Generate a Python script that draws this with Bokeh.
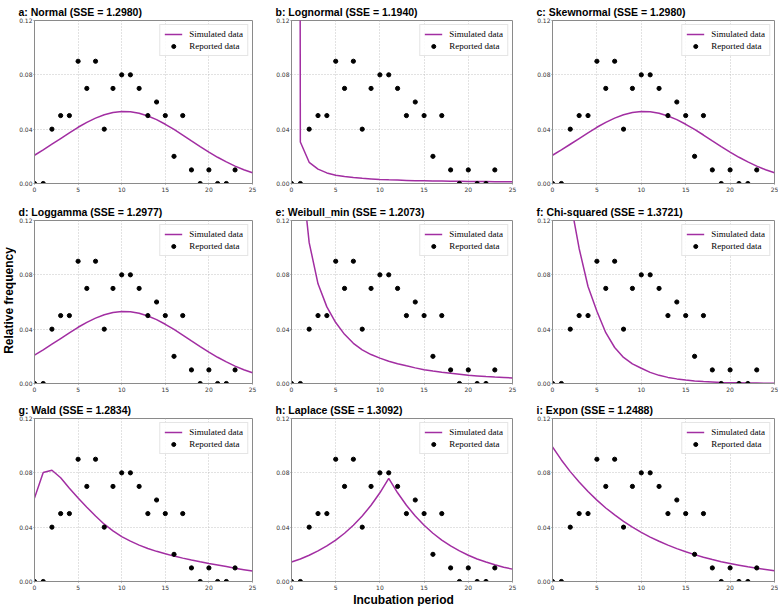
import math
from bokeh.plotting import figure
from bokeh.layouts import column, row
from bokeh.models import FixedTicker, PrintfTickFormatter, Label
from bokeh.embed import file_html
from bokeh.resources import INLINE

# ---------------- data ----------------
days = list(range(0, 26))            # x grid of the fitted curves
report_days = list(range(0, 24))     # x of the reported points
reported_freq = [0.00, 0.00, 0.04, 0.05, 0.05, 0.09, 0.07, 0.09, 0.04, 0.07,
                 0.08, 0.08, 0.07, 0.05, 0.06, 0.05, 0.02, 0.05, 0.01, 0.00,
                 0.01, 0.00, 0.00, 0.01]

normal_pdf = [0.0208, 0.0247, 0.0289, 0.0331, 0.0373, 0.0414, 0.0450, 0.0481, 0.0506, 0.0522,
              0.0530, 0.0528, 0.0517, 0.0497, 0.0470, 0.0436, 0.0398, 0.0357, 0.0314, 0.0272,
              0.0231, 0.0193, 0.0159, 0.0128, 0.0101, 0.0079]
lognormal_pdf = [5.0, 0.0306, 0.0156, 0.0106, 0.0078, 0.0061, 0.0051, 0.0044, 0.0038, 0.0034,
                 0.0030, 0.0027, 0.0025, 0.0023, 0.0021, 0.0020, 0.0019, 0.0018, 0.0017, 0.0016,
                 0.0015, 0.0014, 0.0014, 0.0013, 0.0013, 0.0012]
skewnormal_pdf = [0.0208, 0.0247, 0.0289, 0.0331, 0.0373, 0.0414, 0.0450, 0.0481, 0.0506, 0.0522,
                  0.0530, 0.0528, 0.0517, 0.0497, 0.0470, 0.0436, 0.0398, 0.0357, 0.0314, 0.0272,
                  0.0231, 0.0193, 0.0159, 0.0128, 0.0101, 0.0079]
loggamma_pdf = [0.0209, 0.0247, 0.0289, 0.0331, 0.0373, 0.0414, 0.0450, 0.0481, 0.0506, 0.0522,
                0.0530, 0.0528, 0.0517, 0.0497, 0.0470, 0.0436, 0.0398, 0.0357, 0.0314, 0.0272,
                0.0231, 0.0193, 0.0159, 0.0128, 0.0101, 0.0079]
weibull_min_pdf = [5.0, 0.165, 0.1037, 0.0734, 0.0564, 0.0449, 0.0362, 0.0296, 0.0248, 0.0213,
                   0.0187, 0.0164, 0.0146, 0.0130, 0.0115, 0.0102, 0.0092, 0.0083, 0.0075, 0.0068,
                   0.0061, 0.0056, 0.0051, 0.0047, 0.0044, 0.0041]
chi2_pdf = [5.0, 0.40, 0.135, 0.0994, 0.0714, 0.0532, 0.0374, 0.0265, 0.0192, 0.0145,
            0.0112, 0.0082, 0.0060, 0.0045, 0.0034, 0.0026, 0.0019, 0.0014, 0.0011, 0.0008,
            0.0006, 0.0005, 0.0004, 0.0003, 0.0002, 0.0002]
wald_pdf = [0.0614, 0.0802, 0.0819, 0.0764, 0.0687, 0.0614, 0.0547, 0.0482, 0.0422, 0.0373,
            0.0330, 0.0297, 0.0268, 0.0243, 0.0222, 0.0205, 0.0187, 0.0172, 0.0158, 0.0145,
            0.0133, 0.0122, 0.0110, 0.0097, 0.0087, 0.0077]
laplace_pdf = [0.0143, 0.0166, 0.0193, 0.0225, 0.0262, 0.0305, 0.0355, 0.0414, 0.0482, 0.0561,
               0.0653, 0.0760, 0.0653, 0.0561, 0.0482, 0.0414, 0.0355, 0.0305, 0.0262, 0.0225,
               0.0193, 0.0166, 0.0143, 0.0123, 0.0105, 0.0091]
expon_pdf = [0.0990, 0.0895, 0.0809, 0.0732, 0.0662, 0.0599, 0.0541, 0.0490, 0.0443, 0.0400,
             0.0362, 0.0327, 0.0296, 0.0268, 0.0242, 0.0219, 0.0198, 0.0179, 0.0162, 0.0146,
             0.0132, 0.0120, 0.0108, 0.0098, 0.0089, 0.0080]

panel_titles = ["a: Normal (SSE = 1.2980)", "b: Lognormal (SSE = 1.1940)",
                "c: Skewnormal (SSE = 1.2980)", "d: Loggamma (SSE = 1.2977)",
                "e: Weibull_min (SSE = 1.2073)", "f: Chi-squared (SSE = 1.3721)",
                "g: Wald (SSE = 1.2834)", "h: Laplace (SSE = 1.3092)",
                "i: Expon (SSE = 1.2488)"]
panel_curves = [normal_pdf, lognormal_pdf, skewnormal_pdf, loggamma_pdf, weibull_min_pdf,
                chi2_pdf, wald_pdf, laplace_pdf, expon_pdf]
x_ticks = [0, 5, 10, 15, 20, 25]
y_ticks = [0.00, 0.04, 0.08, 0.12]
y_label = "Relative frequency"
x_label = "Incubation period"

# ---------------- layout / style ----------------
PURPLE = "#a22ea2"
COL_BORDERS = [(16, 220, 6), (33, 221, 6), (34, 222, 4)]      # left, frame, right
ROW_BORDERS = [(18, 165, 17), (18, 165, 15), (18, 166, 10)]    # top, frame, bottom
YSTRIP_W = 16
XSTRIP_H = 14


def make_panel(i, title, curve):
    r, c = divmod(i, 3)
    left, fw, right = COL_BORDERS[c]
    top, fh, bottom = ROW_BORDERS[r]
    p = figure(width=left + fw + right, height=top + fh + bottom,
               x_range=(0, 25), y_range=(0, 0.12),
               output_backend="svg", toolbar_location=None,
               min_border_left=left, min_border_right=right,
               min_border_top=top, min_border_bottom=bottom,
               background_fill_color="white", border_fill_color="white")
    p.title.text = title
    p.title.align = "left"
    p.title.offset = -16
    p.title.standoff = 6
    p.title.text_font = "Liberation Sans"
    p.title.text_font_size = "10.5px"
    p.title.text_font_style = "bold"
    p.title.text_color = "black"

    p.outline_line_color = "#8a8a8a"
    p.outline_line_width = 1
    p.outline_line_alpha = 1

    for ax in (p.xaxis, p.yaxis):
        ax.axis_line_color = "#8a8a8a"
        ax.major_tick_line_color = "#8a8a8a"
        ax.major_tick_out = 1
        ax.major_tick_in = 0
        ax.minor_tick_line_color = None
        ax.major_label_standoff = 1
        ax.major_label_text_font = "DejaVu Sans"
        ax.major_label_text_font_size = "6px"
        ax.major_label_text_color = "#333333"
    p.xaxis.major_label_standoff = 2
    p.xaxis.ticker = FixedTicker(ticks=x_ticks)
    p.yaxis.ticker = FixedTicker(ticks=y_ticks)
    p.yaxis.formatter = PrintfTickFormatter(format="%.2f")

    p.xgrid.ticker = FixedTicker(ticks=x_ticks)
    p.ygrid.ticker = FixedTicker(ticks=y_ticks)
    p.grid.grid_line_color = "#b5b5b5"
    p.grid.grid_line_dash = "1 2"
    p.grid.grid_line_width = 0.8

    p.line(days, curve, line_color=PURPLE, line_width=1.5, legend_label="Simulated data")
    p.scatter(report_days, reported_freq, size=4.2, color="black",
              legend_label="Reported data")

    lg = p.legend[0]
    lg.location = "top_right"
    lg.margin = 4
    lg.padding = 4
    lg.spacing = 2
    lg.glyph_width = 18
    lg.glyph_height = 10
    lg.label_height = 10
    lg.label_standoff = 7
    lg.label_text_font = "Liberation Serif"
    lg.label_text_font_size = "9px"
    lg.label_text_color = "black"
    lg.border_line_color = "#cccccc"
    lg.border_line_width = 1
    lg.background_fill_color = "white"
    lg.background_fill_alpha = 0.85
    return p


def make_strip(width, height, text, x, y, angle):
    s = figure(width=width, height=height, x_range=(0, 1), y_range=(0, 1),
               output_backend="svg", toolbar_location=None,
               x_axis_location=None, y_axis_location=None,
               min_border=0, outline_line_color=None,
               background_fill_color="white", border_fill_color="white")
    s.grid.visible = False
    s.add_layout(Label(x=x, y=y, text=text, angle=angle,
                       text_align="center", text_baseline="middle",
                       text_font="Liberation Sans", text_font_size="12px",
                       text_font_style="bold", text_color="black"))
    return s


panels = [make_panel(i, t, cv) for i, (t, cv) in enumerate(zip(panel_titles, panel_curves))]
grid_h = sum(t + f + b for t, f, b in ROW_BORDERS)
grid_w = sum(l + f + r for l, f, r in COL_BORDERS)
ystrip = make_strip(YSTRIP_W, grid_h + XSTRIP_H, y_label, 0.5, 1 - 300 / (grid_h + XSTRIP_H),
                    math.pi / 2)
xstrip = make_strip(grid_w, XSTRIP_H, x_label, (403 - YSTRIP_W) / grid_w, 0.45, 0)

layout = row(ystrip, column(row(panels[0:3]), row(panels[3:6]), row(panels[6:9]), xstrip))

open("out.html", "w").write(file_html(layout, INLINE))
